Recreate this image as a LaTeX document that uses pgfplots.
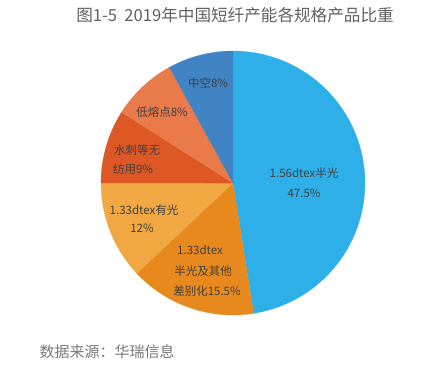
\documentclass[border=0pt]{standalone}
\usepackage{pgfplots}
\pgfplotsset{compat=1.18}
\usepackage{fontspec}
\setmainfont{Noto Sans CJK SC}
\newfontfamily\cjk{Noto Sans CJK SC}
\definecolor{cA}{RGB}{47,175,232}
\definecolor{cB}{RGB}{232,137,30}
\definecolor{cC}{RGB}{241,168,66}
\definecolor{cD}{RGB}{222,88,38}
\definecolor{cE}{RGB}{233,122,74}
\definecolor{cF}{RGB}{64,132,196}
\definecolor{lbl}{RGB}{64,64,64}
% shares (%) clockwise from 12 o'clock
\def\vA{47.5}\def\vB{15.5}\def\vC{12}\def\vD{9}\def\vE{8}\def\vF{8}
\pgfmathsetmacro\aA{90}
\pgfmathsetmacro\aB{\aA-3.6*\vA}
\pgfmathsetmacro\aC{\aB-3.6*\vB}
\pgfmathsetmacro\aD{\aC-3.6*\vC}
\pgfmathsetmacro\aE{\aD-3.6*\vD}
\pgfmathsetmacro\aF{\aE-3.6*\vE}
\pgfmathsetmacro\aG{\aF-3.6*\vF}
\def\cx{233}\def\cy{192}\def\rr{132}
\begin{document}
\begin{tikzpicture}
\begin{axis}[at={(0,0)}, anchor=south west, width=443pt, height=375pt, scale only axis,
  xmin=0, xmax=443, ymin=0, ymax=375, hide axis, clip=false]
\addplot[fill=cA, draw=cA, line width=0.2pt, domain=\aB:\aA, samples=90] ({\cx+\rr*cos(x)},{\cy+\rr*sin(x)}) -- (axis cs:\cx,\cy) -- cycle;
\addplot[fill=cB, draw=cB, line width=0.2pt, domain=\aC:\aB, samples=40] ({\cx+\rr*cos(x)},{\cy+\rr*sin(x)}) -- (axis cs:\cx,\cy) -- cycle;
\addplot[fill=cC, draw=cC, line width=0.2pt, domain=\aD:\aC, samples=30] ({\cx+\rr*cos(x)},{\cy+\rr*sin(x)}) -- (axis cs:\cx,\cy) -- cycle;
\addplot[fill=cD, draw=cD, line width=0.2pt, domain=\aE:\aD, samples=25] ({\cx+\rr*cos(x)},{\cy+\rr*sin(x)}) -- (axis cs:\cx,\cy) -- cycle;
\addplot[fill=cE, draw=cE, line width=0.2pt, domain=\aF:\aE, samples=25] ({\cx+\rr*cos(x)},{\cy+\rr*sin(x)}) -- (axis cs:\cx,\cy) -- cycle;
\addplot[fill=cF, draw=cF, line width=0.2pt, domain=\aG:\aF, samples=25] ({\cx+\rr*cos(x)},{\cy+\rr*sin(x)}) -- (axis cs:\cx,\cy) -- cycle;
% labels
\begin{scope}[every node/.style={text=lbl, font=\fontsize{11.5}{13}\selectfont, inner sep=0pt}]
\node at (axis cs:304,202) {1.56dtex半光};
\node at (axis cs:304,182) {47.5\%};
\node at (axis cs:200,125) {1.33dtex};
\node at (axis cs:203,104) {半光及其他};
\node at (axis cs:207,84) {差别化15.5\%};
\node at (axis cs:144,165) {1.33dtex有光};
\node at (axis cs:142,147) {12\%};
\node at (axis cs:137,225) {水刺等无};
\node at (axis cs:133,206) {纺用9\%};
\node at (axis cs:162,263) {低熔点8\%};
\node at (axis cs:208,292) {中空8\%};
\end{scope}
\node[text={rgb,255:red,96;green,96;blue,96}, font=\fontsize{16.6}{18}\selectfont, inner sep=0pt] at (axis cs:235,360) {图1-5\ \ 2019年中国短纤产能各规格产品比重};
\node[text={rgb,255:red,120;green,120;blue,120}, font=\fontsize{15}{17}\selectfont, inner sep=0pt] at (axis cs:107,23) {数据来源：华瑞信息};
\end{axis}
\path (0,0) rectangle (443pt,375pt);
\end{tikzpicture}
\end{document}
